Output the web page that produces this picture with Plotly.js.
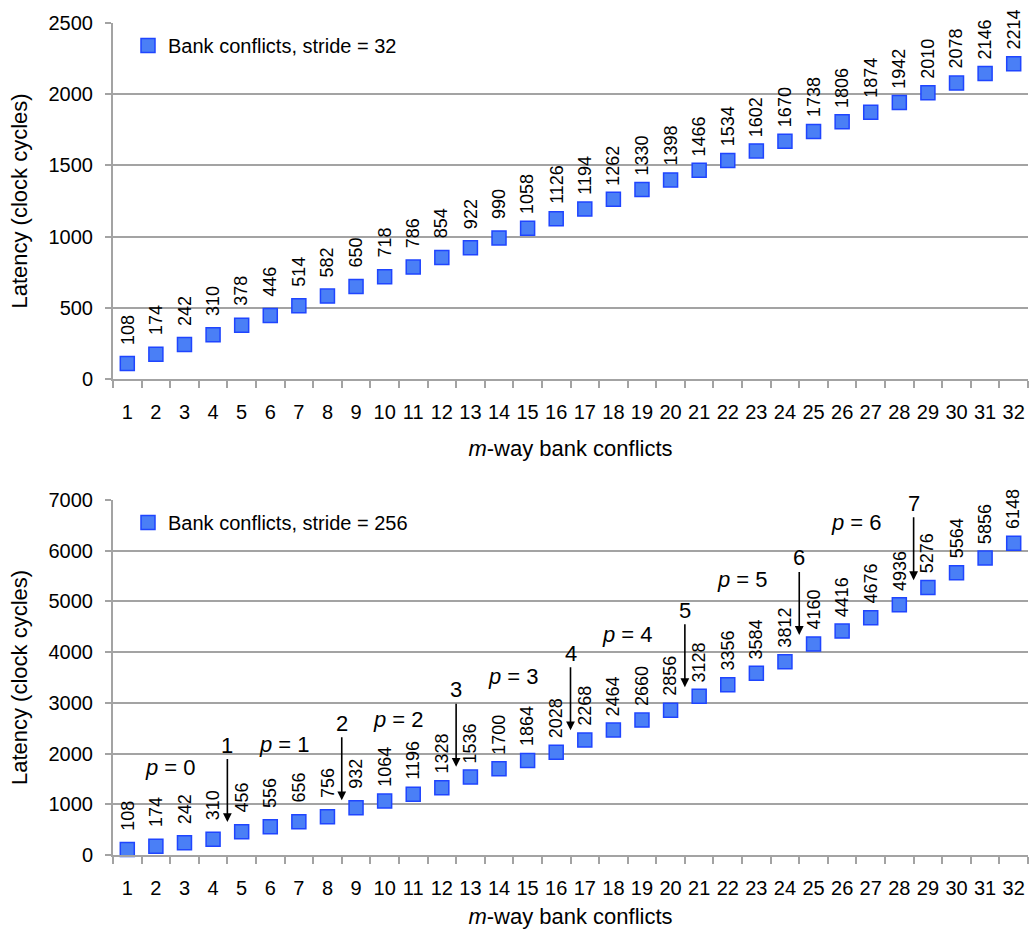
<!DOCTYPE html>
<html>
<head>
<meta charset="utf-8">
<script src="https://cdn.plot.ly/plotly-3.0.1.min.js"></script>
<style>html,body{margin:0;padding:0;background:#fff}#chart{width:1029px;height:932px}</style>
</head>
<body>
<div id="chart"></div>
<script>
const categories = [1,2,3,4,5,6,7,8,9,10,11,12,13,14,15,16,
  17,18,19,20,21,22,23,24,25,26,27,28,29,30,31,32];
const tickLabels = ['1','2','3','4','5','6','7','8','9','10','11','12','13','14','15','16',
  '17','18','19','20','21','22','23','24','25','26','27','28','29','30','31','32'];
const stride32 = [108,174,242,310,378,446,514,582,650,718,786,854,922,990,1058,1126,
  1194,1262,1330,1398,1466,1534,1602,1670,1738,1806,1874,1942,2010,2078,2146,2214];
const stride256 = [108,174,242,310,456,556,656,756,932,1064,1196,1328,1536,1700,1864,2028,
  2268,2464,2660,2856,3128,3356,3584,3812,4160,4416,4676,4936,5276,5564,5856,6148];
const seriesNames = ['Bank conflicts, stride = 32', 'Bank conflicts, stride = 256'];
// annotations on the lower chart (x in category units, y in data values)
const arrowX = [4.5,8.5,12.5,16.5,20.5,24.5,28.5];
const arrowText = ['1','2','3','4','5','6','7'];
const arrowHeadY = [650,1080,1740,2460,3310,4340,5420];
const pX = [2.5,6.5,10.5,14.5,18.5,22.5,26.5,30.5];
const pText = ['0','1','2','3','4','5','6','7'];
const pY = [1716,2170,2663,3511,4339,5424,6548,7120];

const FONT = '"Liberation Sans", Arial, sans-serif';
const GRID = '#a3a3a3';
const W = 1029, H = 932;
const xDom = [113/W, 1028/W];
const topDom = [1-379/H, 1-23/H];
const botDom = [1-855/H, 1-500/H];

const marker = {symbol:'square', size:14, color:'#4a7ff6', line:{color:'#1f45ff', width:1.5}};

const traces = [
  {type:'scatter', mode:'markers', x:categories, y:stride32, name:seriesNames[0],
   xaxis:'x', yaxis:'y', marker:marker, legend:'legend', cliponaxis:false, hoverinfo:'x+y'},
  {type:'scatter', mode:'markers', x:categories, y:stride256, name:seriesNames[1],
   xaxis:'x2', yaxis:'y2', marker:marker, legend:'legend2', cliponaxis:false, hoverinfo:'x+y'}
];

const annotations = [];
function dataLabels(vals, xr, yr) {
  vals.forEach((v, i) => annotations.push({
    xref:xr, yref:yr, x:categories[i], y:v, text:String(v), showarrow:false,
    textangle:-90, xanchor:'center', yanchor:'middle', yshift:34,
    font:{family:FONT, size:18, color:'#000'}
  }));
}
dataLabels(stride32, 'x', 'y');
dataLabels(stride256, 'x2', 'y2');
arrowX.forEach((xv, i) => annotations.push({
  xref:'x2', yref:'y2', x:xv, y:arrowHeadY[i], text:arrowText[i], showarrow:true,
  ax:0, ay:-77, arrowhead:2, arrowsize:1.1, arrowwidth:1.6, arrowcolor:'#000',
  font:{family:FONT, size:22, color:'#000'}
}));
pX.forEach((xv, i) => annotations.push({
  xref:'x2', yref:'y2', x:xv, y:pY[i], text:'<i>p</i> = ' + pText[i], showarrow:false,
  xanchor:'center', yanchor:'middle', font:{family:FONT, size:22, color:'#000'}
}));

function xAxis(anchor, standoff) {
  return {domain:xDom, anchor:anchor, type:'linear', range:[0.5, 32.5],
    tickmode:'array', tickvals:categories, ticktext:tickLabels, tickangle:0,
    showgrid:false, zeroline:false, showline:true, linecolor:GRID, linewidth:2, ticks:'',
    minor:{tick0:0.5, dtick:1, ticks:'outside', ticklen:7, tickcolor:GRID, tickwidth:2, showgrid:false},
    ticklabelstandoff:14, automargin:false, fixedrange:true,
    tickfont:{family:FONT, size:20, color:'#000'},
    title:{text:'<i>m</i>-way bank conflicts', font:{family:FONT, size:22, color:'#000'}, standoff:standoff}};
}
function yAxis(dom, anchor, rng, dt) {
  return {domain:dom, anchor:anchor, range:rng, dtick:dt, tick0:0, showgrid:true, gridcolor:GRID,
    gridwidth:2, showline:true, linecolor:GRID, linewidth:2, ticks:'outside', ticklen:6,
    tickcolor:GRID, tickwidth:2, zeroline:false, automargin:false, fixedrange:true,
    ticklabelstandoff:8, tickfont:{family:FONT, size:20, color:'#000'},
    title:{text:'Latency (clock cycles)', font:{family:FONT, size:22, color:'#000'}, standoff:15}};
}

const layout = {
  width:W, height:H, margin:{l:0, r:0, t:0, b:0},
  paper_bgcolor:'#fff', plot_bgcolor:'#fff',
  font:{family:FONT, color:'#000'},
  xaxis: xAxis('y', 19),
  yaxis: yAxis(topDom, 'x', [0,2500], 500),
  xaxis2: xAxis('y2', 11),
  yaxis2: yAxis(botDom, 'x2', [0,7000], 1000),
  showlegend:true,
  legend:{x:128/W, y:1-26/H, xanchor:'left', yanchor:'top', bgcolor:'rgba(0,0,0,0)',
    font:{family:FONT, size:20, color:'#000'}},
  legend2:{x:128/W, y:1-503/H, xanchor:'left', yanchor:'top', bgcolor:'rgba(0,0,0,0)',
    font:{family:FONT, size:20, color:'#000'}},
  annotations:annotations
};

Plotly.newPlot('chart', traces, layout, {displayModeBar:false, staticPlot:true});
</script>
</body>
</html>
